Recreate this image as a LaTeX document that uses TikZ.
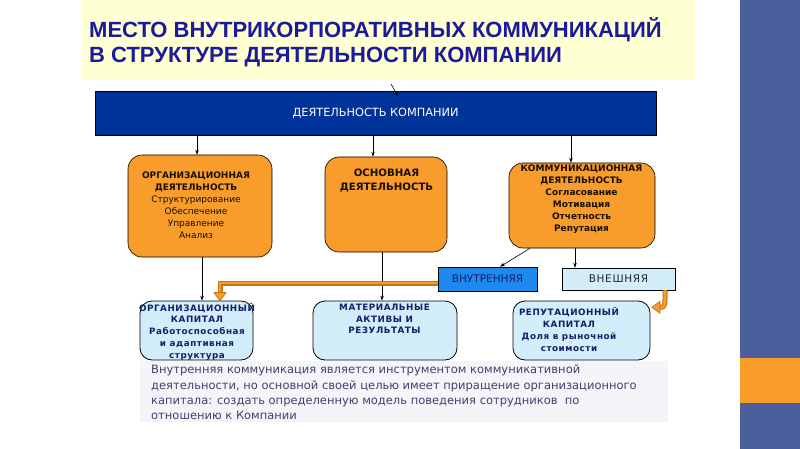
\documentclass[tikz,border=0pt]{standalone}
\usepackage{fontspec}
\setmainfont{DejaVu Sans}
\newfontfamily\titlefont{Liberation Sans}
\newfontfamily\spacedfont[LetterSpace=6]{DejaVu Sans}
\usetikzlibrary{arrows.meta}
\definecolor{ttl}{HTML}{1A1A9A}
\definecolor{ylw}{HTML}{FFFFD4}
\definecolor{barblue}{HTML}{00339A}
\definecolor{orng}{HTML}{F89C2C}
\definecolor{orngdk}{HTML}{C47812}
\definecolor{ltblue}{HTML}{D3EDFA}
\definecolor{midblue}{HTML}{1E88EE}
\definecolor{navy}{HTML}{12206A}
\definecolor{band}{HTML}{4A5F9C}
\definecolor{para}{HTML}{4B3C6E}
\definecolor{parabg}{HTML}{F3F5F9}
\definecolor{otext}{HTML}{1A1000}
\begin{document}
\begin{tikzpicture}[x=1pt,y=-1pt,
  arr/.style={-{Stealth[length=5pt,width=3.5pt]}, line width=0.6pt},
  obox/.style={draw=black, line width=0.6pt, fill=orng, rounded corners=14pt, inner sep=0pt},
  bbox/.style={draw=black, line width=0.8pt, fill=ltblue, rounded corners=12pt, inner sep=0pt},
  rbox/.style={draw=black, line width=0.6pt, inner sep=0pt},
  otxt/.style={align=center, text=otext, inner sep=0pt, font=\fontsize{9}{12}\selectfont},
  btxt/.style={align=center, text=navy, inner sep=0pt, font=\spacedfont\fontsize{8.8}{11.8}\selectfont\bfseries},
  ttxt/.style={anchor=base west, text=ttl, inner sep=0pt, font=\titlefont\fontsize{22}{25}\selectfont\bfseries},
  oarrow/.style={line width=5pt, draw=orngdk},
  oarrowin/.style={line width=2.6pt, draw=orng},
  otip/.style={fill=orng, draw=orngdk, line width=0.8pt, line join=round}
]
\useasboundingbox (0,0) rectangle (800,449);
\fill[white] (0,0) rectangle (800,449);
% right band
\fill[band] (740,0) rectangle (800,449);
\fill[orng] (740,358) rectangle (800,403);
% title area
\fill[ylw] (82,0) rectangle (695,80);
\node[ttxt] (title1) at (89,38) {МЕСТО ВНУТРИКОРПОРАТИВНЫХ КОММУНИКАЦИЙ};
\node[ttxt] (title2) at (89,63) {В СТРУКТУРЕ ДЕЯТЕЛЬНОСТИ КОМПАНИИ};
% paragraph background
\fill[parabg] (140,361) rectangle (668,422);

% main bar
\node[rbox, fill=barblue, minimum width=561pt, minimum height=44pt, text=white,
      font=\fontsize{11.3}{12}\selectfont] (bar) at (375.5,113) {ДЕЯТЕЛЬНОСТЬ КОМПАНИИ};

% orange boxes
\node[obox, minimum width=144pt, minimum height=102pt] (org) at (200,206) {};
\node[obox, minimum width=122pt, minimum height=95pt] (main) at (386,204.5) {};
\node[obox, minimum width=146pt, minimum height=85pt] (comm) at (582,205.5) {};

\node[otxt] (orgT) at (196,205.5) {\textbf{ОРГАНИЗАЦИОННАЯ}\\\textbf{ДЕЯТЕЛЬНОСТЬ}\\Структурирование\\Обеспечение\\Управление\\Анализ};
\node[otxt, font=\fontsize{10.2}{13.5}\selectfont\bfseries] (mainT) at (386.5,180.5) {ОСНОВНАЯ\\ДЕЯТЕЛЬНОСТЬ};
\node[otxt, font=\fontsize{9}{12}\selectfont\bfseries] (commT) at (581.5,199) {КОММУНИКАЦИОННАЯ\\ДЕЯТЕЛЬНОСТЬ\\Согласование\\Мотивация\\Отчетность\\Репутация};

% internal / external
\node[rbox, fill=midblue, minimum width=99pt, minimum height=24pt, text=navy,
      font=\fontsize{10.5}{12}\selectfont] (vnutr) at (487.5,279) {ВНУТРЕННЯЯ};
\node[rbox, fill=ltblue, minimum width=113pt, minimum height=22pt, text=black!85,
      font=\spacedfont\fontsize{10.5}{12}\selectfont] (vnesh) at (618.5,279) {ВНЕШНЯЯ};

% blue capital boxes
\node[bbox, minimum width=113pt, minimum height=59pt] (orgcap) at (196.5,330.5) {};
\node[bbox, minimum width=144pt, minimum height=59pt] (mat) at (385,330.5) {};
\node[bbox, minimum width=137pt, minimum height=59pt] (repcap) at (581.5,330.5) {};

\node[btxt] (orgcapT) at (197,331.5) {ОРГАНИЗАЦИОННЫЙ\\КАПИТАЛ\\Работоспособная\\и адаптивная\\структура};
\node[btxt] (matT) at (384.5,319) {МАТЕРИАЛЬНЫЕ\\АКТИВЫ И\\РЕЗУЛЬТАТЫ};
\node[btxt] (repcapT) at (569,329.5) {РЕПУТАЦИОННЫЙ\\КАПИТАЛ\\Доля в рыночной\\стоимости};

% connectors
\coordinate (t1) at (391,84);
\coordinate (t2) at (398,96);
\draw[arr] (t1) -- (t2);
\draw[arr] ([xshift=-3pt]org.north |- bar.south) -- ([xshift=-3pt]org.north);
\draw[arr] ([xshift=-13pt]main.north |- bar.south) -- ([xshift=-13pt]main.north);
\draw[arr] ([xshift=-11pt]comm.north |- bar.south) -- ([xshift=-11pt]comm.north);
\draw[arr] ([xshift=2pt]org.south) -- ([xshift=2pt]org.south |- orgcap.north);
\draw[arr] ([xshift=-4pt]main.south) -- ([xshift=-4pt]main.south |- mat.north);
\draw[arr] ([xshift=-7pt]comm.south) -- ([xshift=-7pt]comm.south |- vnesh.north);
\draw[arr] ([xshift=-52pt]comm.south) -- ([xshift=12.5pt]vnutr.north);

% orange block arrow: internal -> organisational capital
\coordinate (oa1) at ([yshift=-4pt]vnutr.west);
\coordinate (oa2) at ([xshift=23.5pt,yshift=8pt]orgcap.north);
\coordinate (oa3) at ([xshift=23.5pt]orgcap.north);
\draw[oarrow] (oa1) -| (oa2);
\draw[oarrowin] (oa1) -| (oa2);
\filldraw[otip] ([xshift=-6pt]oa2) -- ([xshift=6pt]oa2) -- (oa3) -- cycle;

% orange curved arrow: external -> reputational capital
\coordinate (ob1) at ([xshift=46.5pt]vnesh.south);
\coordinate (ob2) at ([xshift=-5pt,yshift=-17pt]ob1);
\coordinate (ob3) at ([xshift=-13pt,yshift=-17pt]ob1);
\draw[oarrow] (ob1) -- ([yshift=-9pt]ob1) .. controls ([yshift=-17pt]ob1) and ([xshift=-2pt,yshift=-17pt]ob1) .. (ob2);
\draw[oarrowin] (ob1) -- ([yshift=-9pt]ob1) .. controls ([yshift=-17pt]ob1) and ([xshift=-2pt,yshift=-17pt]ob1) .. (ob2);
\filldraw[otip] ([yshift=6pt]ob2) -- ([yshift=-6pt]ob2) -- (ob3) -- cycle;

% paragraph
\node[anchor=north west, align=left, inner sep=0pt, text=para,
      font=\fontsize{11.5}{15.3}\selectfont] (parT) at (151,365)
 {Внутренняя коммуникация является инструментом коммуникативной\\
  деятельности, но основной своей целью имеет приращение организационного\\
  капитала: создать определенную модель поведения сотрудников~ по\\
  отношению к Компании};
\end{tikzpicture}
\end{document}
